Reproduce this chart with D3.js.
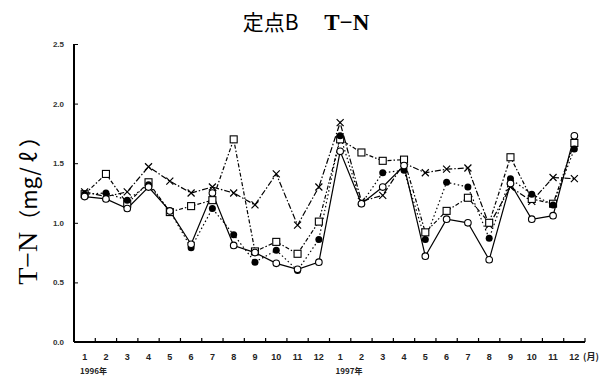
<!DOCTYPE html>
<html>
<head>
<meta charset="utf-8">
<script src="https://cdn.jsdelivr.net/npm/d3@7"></script>
<style>
  body { margin: 0; background: #fff; }
  svg { display: block; }
</style>
</head>
<body>
<script>
// month tick labels, two years
var months = ["1","2","3","4","5","6","7","8","9","10","11","12",
              "1","2","3","4","5","6","7","8","9","10","11","12"];
var yearLabels = ["1996年", "1997年"];
var yTicks = [0, 0.5, 1.0, 1.5, 2.0, 2.5];

// series values (mg/l)
var openCircle = [1.22, 1.20, 1.12, 1.30, 1.10, 0.82, 1.25, 0.81, 0.75, 0.66, 0.61, 0.67,
                  1.60, 1.16, 1.30, 1.48, 0.72, 1.03, 1.00, 0.69, 1.33, 1.03, 1.06, 1.73];
var filledCircle = [1.24, 1.25, 1.19, 1.32, 1.10, 0.79, 1.12, 0.90, 0.67, 0.77, 0.60, 0.86,
                    1.73, 1.16, 1.42, 1.44, 0.86, 1.34, 1.30, 0.87, 1.37, 1.24, 1.15, 1.62];
var openSquare = [1.24, 1.41, 1.16, 1.34, 1.09, 1.14, 1.19, 1.70, 0.76, 0.84, 0.74, 1.01,
                  1.70, 1.59, 1.52, 1.53, 0.92, 1.10, 1.21, 1.00, 1.55, 1.20, 1.16, 1.67];
var crossMark = [1.26, 1.22, 1.26, 1.47, 1.35, 1.25, 1.30, 1.25, 1.15, 1.41, 0.98, 1.30,
                 1.84, 1.18, 1.23, 1.50, 1.42, 1.45, 1.46, 0.98, 1.30, 1.18, 1.38, 1.37];

var svgWidth = 609;
var svgHeight = 385;
var margin = { top: 44, right: 24, bottom: 43, left: 74 };
var width = svgWidth - margin.left - margin.right;
var height = svgHeight - margin.top - margin.bottom;

var svg = d3.select("body")
  .append("svg")
  .attr("width", svgWidth)
  .attr("height", svgHeight);

var chart = svg.append("g")
  .attr("transform", `translate(${margin.left}, ${margin.top})`);

var x = d3.scaleBand()
  .domain(d3.range(months.length))
  .range([0, width]);

var y = d3.scaleLinear()
  .domain([0, 2.5])
  .range([height, 0]);

function cx(d, i) { return x(i) + x.bandwidth() / 2; }
function cy(d) { return y(d); }

// title
svg.append("text")
  .attr("x", 306)
  .attr("y", 30)
  .attr("text-anchor", "middle")
  .style("font-family", "'Noto Sans CJK JP', sans-serif")
  .style("font-size", "21px")
  .text("定点B　  ")
  .append("tspan")
  .style("font-family", "'Liberation Serif', serif")
  .style("font-weight", "bold")
  .style("font-size", "23px")
  .text("T−N");

// y axis label
svg.append("text")
  .attr("transform", "translate(37, 205) rotate(-90)")
  .attr("text-anchor", "middle")
  .style("font-family", "'Liberation Serif', serif")
  .style("font-size", "28px")
  .text("T−N")
  .append("tspan")
  .style("font-family", "'Noto Sans CJK JP', sans-serif")
  .style("font-size", "22px")
  .text("（mg/ ℓ ）");

// y axis
var leftAxis = d3.axisLeft(y)
  .tickValues(yTicks)
  .tickFormat(d3.format(".1f"))
  .tickSize(-4)
  .tickPadding(10);

var yAxisG = chart.append("g").call(leftAxis);
yAxisG.select(".domain").attr("stroke-width", 2).attr("d", `M0,${height}V0`);
yAxisG.selectAll("text")
  .style("font-family", "'Liberation Sans', sans-serif")
  .style("font-size", "8px")
  .style("font-weight", "bold")
  .attr("fill", "#333");

// x axis: boundary ticks pointing up
chart.append("line")
  .attr("x1", 0).attr("x2", width)
  .attr("y1", height).attr("y2", height)
  .attr("stroke", "#000")
  .attr("stroke-width", 2);

chart.selectAll(".xtick")
  .data(months)
  .enter()
  .append("line")
  .attr("class", "xtick")
  .attr("x1", function(d, i) { return x(i) + x.bandwidth(); })
  .attr("x2", function(d, i) { return x(i) + x.bandwidth(); })
  .attr("y1", height)
  .attr("y2", height - 4)
  .attr("stroke", "#000")
  .attr("stroke-width", 1.2);

chart.selectAll(".xlabel")
  .data(months)
  .enter()
  .append("text")
  .attr("class", "xlabel")
  .attr("x", cx)
  .attr("y", height + 18)
  .attr("text-anchor", "middle")
  .style("font-family", "'Liberation Sans', sans-serif")
  .style("font-size", "9px")
  .style("font-weight", "bold")
  .attr("fill", "#222")
  .text(function(d) { return d; });

chart.selectAll(".year")
  .data(yearLabels)
  .enter()
  .append("text")
  .attr("class", "year")
  .attr("x", function(d, i) { return x(i * 12) + 6; })
  .attr("y", height + 32)
  .style("font-family", "'Noto Sans CJK JP', sans-serif")
  .style("font-size", "8px")
  .style("font-weight", "bold")
  .attr("fill", "#222")
  .text(function(d) { return d; });

chart.append("text")
  .attr("x", width - 2)
  .attr("y", height + 18)
  .style("font-family", "'Noto Sans CJK JP', sans-serif")
  .style("font-size", "9px")
  .style("font-weight", "bold")
  .attr("fill", "#222")
  .text("(月)");

var line = d3.line()
  .x(function(d, i) { return cx(d, i); })
  .y(cy);

function drawLine(data, dash) {
  chart.append("path")
    .datum(data)
    .attr("d", line)
    .attr("fill", "none")
    .attr("stroke", "#000")
    .attr("stroke-width", 1.2)
    .attr("stroke-dasharray", dash);
}

drawLine(crossMark, "6,2,1.5,2");
drawLine(openSquare, "4,2,1.5,2");
drawLine(filledCircle, "1.5,2.5");
drawLine(openCircle, null);

// x markers
chart.selectAll(".cross")
  .data(crossMark)
  .enter()
  .append("path")
  .attr("class", "cross")
  .attr("transform", function(d, i) { return `translate(${cx(d, i)}, ${cy(d)})`; })
  .attr("d", "M-3.5,-3.5L3.5,3.5M-3.5,3.5L3.5,-3.5")
  .attr("stroke", "#000")
  .attr("stroke-width", 1.2);

// open squares
chart.selectAll(".square")
  .data(openSquare)
  .enter()
  .append("rect")
  .attr("class", "square")
  .attr("x", function(d, i) { return cx(d, i) - 3.5; })
  .attr("y", function(d) { return cy(d) - 3.5; })
  .attr("width", 7)
  .attr("height", 7)
  .attr("fill", "#fff")
  .attr("stroke", "#000")
  .attr("stroke-width", 1.1);

// filled circles
chart.selectAll(".dot")
  .data(filledCircle)
  .enter()
  .append("circle")
  .attr("class", "dot")
  .attr("cx", cx)
  .attr("cy", cy)
  .attr("r", 3.5)
  .attr("fill", "#000");

// open circles
chart.selectAll(".ring")
  .data(openCircle)
  .enter()
  .append("circle")
  .attr("class", "ring")
  .attr("cx", cx)
  .attr("cy", cy)
  .attr("r", 3.3)
  .attr("fill", "#fff")
  .attr("stroke", "#000")
  .attr("stroke-width", 1.1);
</script>
</body>
</html>
